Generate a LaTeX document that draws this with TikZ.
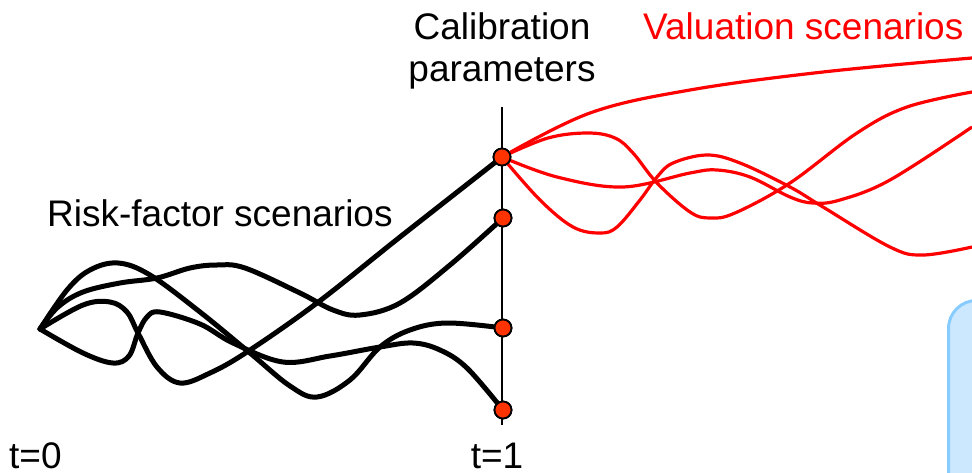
\documentclass[tikz,border=0pt]{standalone}
\usepackage{fontspec}
\setmainfont{Liberation Sans}
\usetikzlibrary{positioning}
\definecolor{mRed}{HTML}{FF0000}
\definecolor{mDot}{HTML}{FF3300}
\definecolor{mBoxFill}{HTML}{CCE8FF}
\definecolor{mBoxLine}{HTML}{88CCFF}

\begin{document}
\begin{tikzpicture}[x=1pt, y=-1pt,
  lbl/.style={font=\fontsize{37}{42}\selectfont, inner sep=0pt},
  riskpath/.style={line width=5pt, line join=round, line cap=round},
  valpath/.style={draw=mRed, line width=3.2pt},
  calpoint/.style={circle, draw=black, line width=1.8pt, fill=mDot, minimum size=17pt, inner sep=0pt},
  notebox/.style={draw=mBoxLine, fill=mBoxFill, line width=3pt, rounded corners=28pt, anchor=north west},
]
  \useasboundingbox (0,0) rectangle (972,473);

  \coordinate (start) at (40,329);
  \coordinate (axtop) at (502,107);
  \coordinate (axbot) at (502,425);
  \coordinate (end1) at (972,58);
  \coordinate (end2) at (972,92);
  \coordinate (end3) at (972,127);
  \coordinate (end4) at (972,247);

  \node[notebox, minimum width=60pt, minimum height=200pt] (note) at (947,299) {};

  \draw[line width=2.2pt] (axtop) -- (axbot);

  \node[calpoint] (cal1) at (502,157) {};
  \node[calpoint] (cal2) at (503,218) {};
  \node[calpoint] (cal3) at (503,328) {};
  \node[calpoint] (cal4) at (503,410) {};

  \draw[riskpath] plot[smooth, tension=0.6] coordinates {(start) (58,307) (83,292) (120,283) (157,278) (190,268) (217,265) (245,268) (300,293) (333,310) (360,315) (400,303) (450,265) (cal2.center)};
  \draw[riskpath] plot[smooth, tension=0.6] coordinates {(start) (67,290) (90,270) (118,263) (150,275) (200,312) (250,353) (290,386) (317,397) (350,380) (380,347) (410,330) (447,323) (cal3.center)};
  \draw[riskpath] plot[smooth, tension=0.6] coordinates {(start) (83,305) (110,302) (127,312) (138,333) (157,367) (180,383) (210,373) (247,352) (317,303) (400,237) (cal1.center)};
  \draw[riskpath] plot[smooth, tension=0.6] coordinates {(start) (83,353) (113,363) (129,356) (138,333) (147,317) (160,312) (200,324) (233,343) (283,362) (330,356) (380,347) (413,343) (440,350) (467,368) (cal4.center)};

  \draw[valpath] plot[smooth, tension=0.6] coordinates {(cal1.center) (590,113) (690,90) (823,72) (end1)};
  \draw[valpath] plot[smooth, tension=0.6] coordinates {(cal1.center) (548,138) (588,133) (615,138) (633,153) (657,183) (690,212) (710,218) (735,213) (790,183) (857,133) (907,107) (end2)};
  \draw[valpath] plot[smooth, tension=0.6] coordinates {(cal1.center) (557,177) (623,187) (690,173) (717,170) (750,177) (790,197) (813,203) (840,200) (890,180) (end3)};
  \draw[valpath] plot[smooth, tension=0.6] coordinates {(cal1.center) (540,200) (573,227) (600,233) (617,227) (640,200) (657,177) (673,163) (707,155) (740,163) (790,187) (823,207) (890,247) (923,255) (end4)};

  \foreach \p in {cal1,cal2,cal3,cal4}
    \node[calpoint] at (\p) {};

  \node[lbl, anchor=base] (caltop) at (502,40) {Calibration};
  \node[lbl, anchor=base] (calbot) at (502,82) {parameters};
  \node[lbl, anchor=base west, text=mRed] (vallabel) at (643,40) {Valuation scenarios};
  \node[lbl, anchor=base west] (risklabel) at (47,227) {Risk-factor scenarios};
  \node[lbl, anchor=base west] (tzero) at (9,468) {t=0};
  \node[lbl, anchor=base] (tone) at (497,468) {t=1};
\end{tikzpicture}
\end{document}
